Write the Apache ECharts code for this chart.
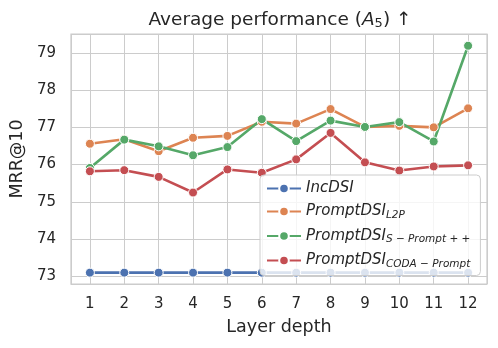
<!DOCTYPE html>
<html>
<head>
<meta charset="utf-8">
<script src="https://cdn.jsdelivr.net/npm/echarts@6/dist/echarts.min.js"></script>
<style>
  html, body { margin: 0; padding: 0; background: #fff; }
  #chart { width: 498px; height: 348px; }
</style>
</head>
<body>
<div id="chart"></div>
<script>
const layers = [1, 2, 3, 4, 5, 6, 7, 8, 9, 10, 11, 12];
const incDSI = [73.1, 73.1, 73.1, 73.1, 73.1, 73.1, 73.1, 73.1, 73.1, 73.1, 73.1, 73.1];
const l2p = [76.56, 76.68, 76.36, 76.72, 76.77, 77.15, 77.1, 77.49, 77.01, 77.04, 77.0, 77.51];
const sPrompt = [75.91, 76.67, 76.49, 76.25, 76.47, 77.22, 76.63, 77.18, 77.01, 77.14, 76.62, 79.19];
const codaPrompt = [75.82, 75.85, 75.67, 75.25, 75.87, 75.78, 76.14, 76.85, 76.06, 75.84, 75.95, 75.98];

const seriesNames = ["IncDSI", "PromptDSI_L2P", "PromptDSI_S", "PromptDSI_CODA"];
const legendLabels = {
  "IncDSI": "{i|IncDSI}",
  "PromptDSI_L2P": "{i|PromptDSI}{s|L2P}",
  "PromptDSI_S": "{i|PromptDSI}{s|S − Prompt + +}",
  "PromptDSI_CODA": "{i|PromptDSI}{s|CODA − Prompt}"
};
const colors = ["#4C72B0", "#DD8452", "#55A868", "#C44E52"];

const chart = echarts.init(document.getElementById("chart"));

const font = "DejaVu Sans";
const textColor = "#262626";

function pairs(values) {
  return layers.map((x, i) => [x, values[i]]);
}

function lineSeries(name, values, color) {
  return {
    name: name,
    type: "line",
    data: pairs(values),
    symbol: "circle",
    symbolSize: 9,
    lineStyle: { color: color, width: 2.6 },
    itemStyle: { color: color, borderColor: "#fff", borderWidth: 1 },
    emphasis: { disabled: true }
  };
}

const options = {
  animation: false,
  color: colors,
  title: {
    text: "{t|Average performance (}{a|A}{s|5}{t|) ↑}",
    left: 275,
    textAlign: "center",
    top: 5,
    textStyle: {
      fontWeight: "normal",
      rich: {
        t: { fontFamily: font, fontSize: 18.5, fontWeight: "normal", color: textColor },
        a: { fontFamily: font, fontSize: 18.5, fontWeight: "normal", fontStyle: "italic", color: textColor },
        s: { fontFamily: font, fontSize: 13, fontWeight: "normal", color: textColor, padding: [7, 0, 0, 0] }
      }
    }
  },
  grid: {
    left: 68,
    right: 11,
    top: 34,
    bottom: 64,
    show: true,
    borderColor: "#cccccc",
    borderWidth: 1.25
  },
  xAxis: {
    type: "value",
    min: 0.45,
    max: 12.55,
    splitNumber: 12,
    minInterval: 1,
    maxInterval: 1,
    name: "Layer depth",
    nameLocation: "middle",
    nameGap: 34,
    nameTextStyle: { fontFamily: font, fontSize: 17.5, color: textColor },
    axisLine: { show: false },
    axisTick: { show: false },
    axisLabel: {
      showMinLabel: false,
      showMaxLabel: false,
      margin: 13,
      fontFamily: font,
      fontSize: 15,
      color: textColor
    },
    splitLine: { show: true, lineStyle: { color: "#cccccc", width: 1 } }
  },
  yAxis: {
    type: "value",
    min: 72.795,
    max: 79.505,
    splitNumber: 7,
    minInterval: 1,
    maxInterval: 1,
    name: "MRR@10",
    nameLocation: "middle",
    nameGap: 42,
    nameTextStyle: { fontFamily: font, fontSize: 17.5, color: textColor },
    axisLine: { show: false },
    axisTick: { show: false },
    axisLabel: {
      showMinLabel: false,
      showMaxLabel: false,
      margin: 15,
      fontFamily: font,
      fontSize: 15,
      color: textColor
    },
    splitLine: { show: true, lineStyle: { color: "#cccccc", width: 1 } }
  },
  legend: {
    orient: "vertical",
    left: 260,
    top: 175,
    padding: [6, 10, 6, 6],
    itemGap: 8,
    itemWidth: 34,
    itemHeight: 12,
    backgroundColor: "rgba(255,255,255,0.8)",
    borderColor: "#cccccc",
    borderWidth: 1,
    borderRadius: 4,
    data: seriesNames,
    formatter: (name) => legendLabels[name],
    textStyle: {
      rich: {
        i: { fontFamily: font, fontSize: 15, fontStyle: "italic", color: textColor },
        s: { fontFamily: font, fontSize: 10.5, fontStyle: "italic", color: textColor, padding: [7, 0, 0, 0] }
      }
    }
  },
  series: [
    lineSeries(seriesNames[0], incDSI, colors[0]),
    lineSeries(seriesNames[1], l2p, colors[1]),
    lineSeries(seriesNames[2], sPrompt, colors[2]),
    lineSeries(seriesNames[3], codaPrompt, colors[3])
  ]
};

chart.setOption(options);
</script>
</body>
</html>
